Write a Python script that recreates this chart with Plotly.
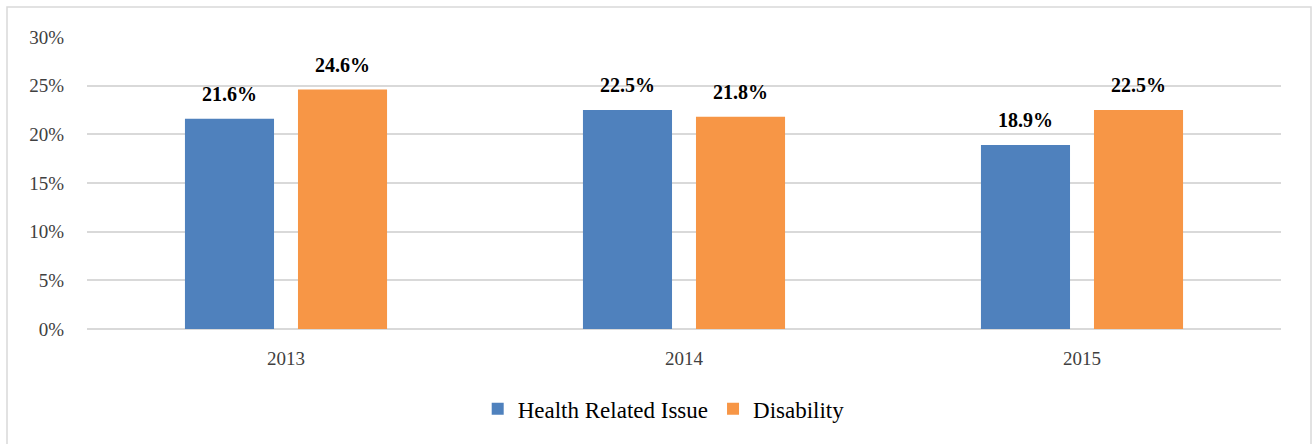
import plotly.graph_objects as go

years = ["2013", "2014", "2015"]
health = [21.6, 22.5, 18.9]
disability = [24.6, 21.8, 22.5]
series_names = ["Health Related Issue", "Disability"]
colors = ["#4F81BD", "#F79646"]
y_ticks = [0, 5, 10, 15, 20, 25, 30]
y_tick_labels = [f"{v}%" for v in y_ticks]

W, H = 1313, 444
L, R, T, B = 87, 32, 37, 115
FONT = "Liberation Serif, Times New Roman, serif"

fig = go.Figure()
for name, vals, col in zip(series_names, [health, disability], colors):
    fig.add_trace(go.Bar(
        x=years, y=vals, name=name, marker=dict(color=col, line=dict(width=0)),
        hoverinfo="skip",
    ))

# data labels
offsets = [-0.25, 0.25]
for vals, off in zip([health, disability], offsets):
    for i, v in enumerate(vals):
        fig.add_annotation(
            x=i + off * 0.568,
            y=v, xref="x", yref="y", text=f"<b>{v:.1f}%</b>",
            showarrow=False, yanchor="bottom", yshift=12,
            font=dict(family=FONT, size=20, color="#000000"),
        )

pw = W - L - R
ph = H - T - B
fig.add_shape(
    type="rect", xref="paper", yref="paper",
    x0=(7 - L) / pw, x1=(1311 - L) / pw,
    y0=(H - 460 - B) / ph, y1=(H - 7 - B) / ph,
    line=dict(color="#D9D9D9", width=1.5), fillcolor="rgba(0,0,0,0)", layer="below",
)

fig.update_layout(
    width=W, height=H,
    margin=dict(l=L, r=R, t=T, b=B, pad=0, autoexpand=False),
    paper_bgcolor="white", plot_bgcolor="white",
    barmode="group", bargap=0.432, bargroupgap=0.212,
    font=dict(family=FONT, size=19, color="#404040"),
    showlegend=True,
    legend=dict(
        orientation="h", x=0.483, xanchor="center", y=-0.2, yanchor="top",
        font=dict(family=FONT, size=23, color="#000000"),
        itemwidth=30, traceorder="normal",
    ),
    xaxis=dict(
        type="category", showgrid=False, showline=False, zeroline=False,
        ticks="", tickfont=dict(family=FONT, size=19, color="#404040"),
        ticklabelstandoff=16,
    ),
    yaxis=dict(
        range=[0, 30], tickvals=y_ticks, ticktext=y_tick_labels,
        showgrid=True, gridcolor="#D9D9D9", gridwidth=1.5,
        zeroline=True, zerolinecolor="#D9D9D9", zerolinewidth=1.5,
        showline=False, ticks="", ticklabelstandoff=22,
        tickfont=dict(family=FONT, size=19, color="#404040"),
    ),
)

fig.write_html("out.html", config={"displayModeBar": False},
               post_script="document.body.style.margin='0';")
